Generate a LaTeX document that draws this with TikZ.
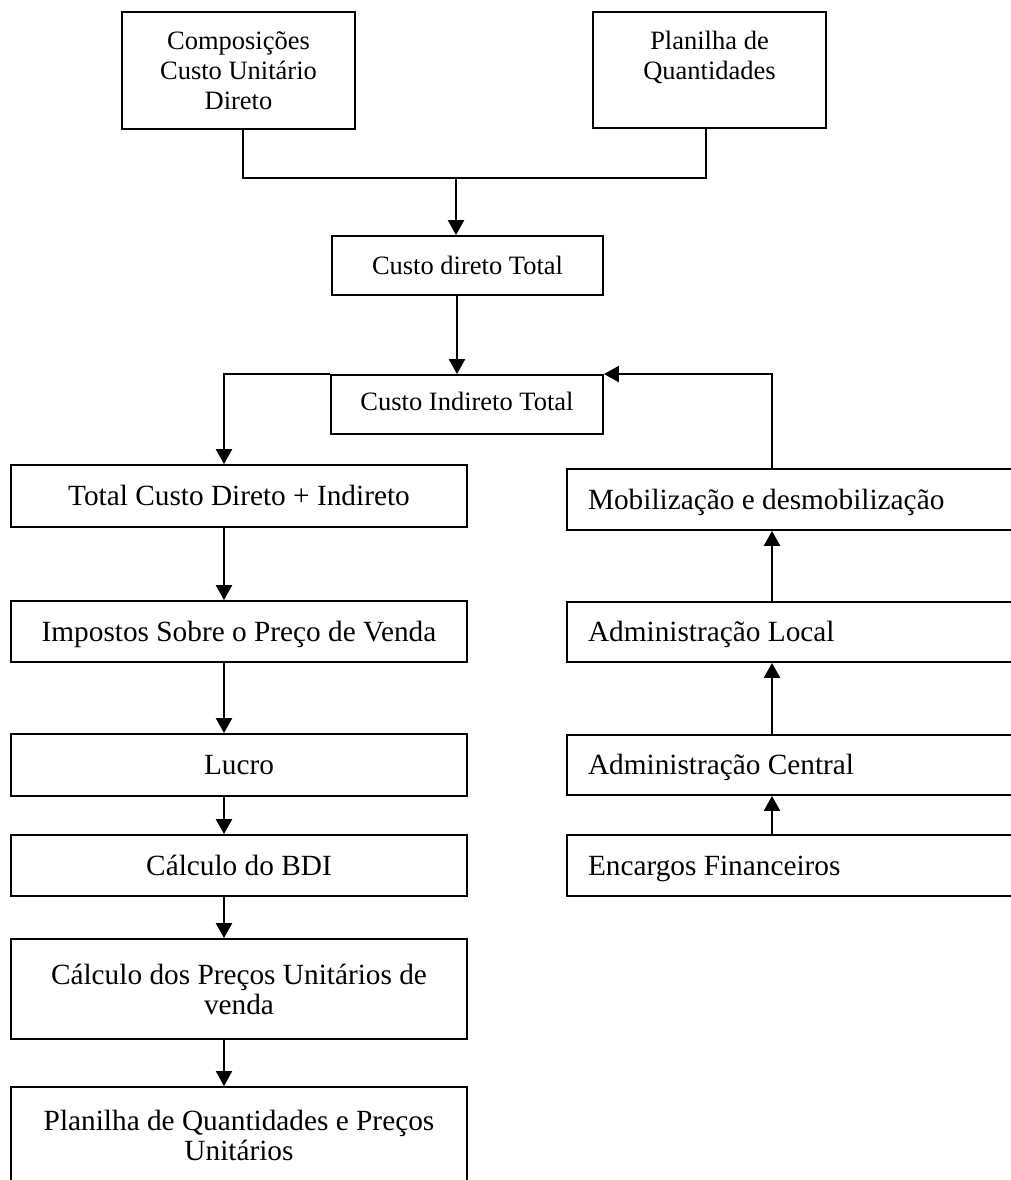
\documentclass[tikz,border=0pt]{standalone}
\usepackage{fontspec}
\setmainfont{Liberation Serif}
\usetikzlibrary{arrows.meta}
\newcommand{\rtext}[1]{\makebox[438pt][l]{#1}}
\begin{document}
\begin{tikzpicture}[x=1pt,y=-1pt,
  box/.style={draw, line width=1.9pt, rectangle, inner sep=0pt, align=center},
  fa/.style={font=\fontsize{26.5}{30}\selectfont},
  fb/.style={font=\fontsize{29.3}{30}\selectfont},
  onea/.style={text height=23.85pt, text depth=6.36pt},
  oneb/.style={text height=26.4pt, text depth=7pt},
  lbox/.style={box, fb, minimum width=456pt},
  rbox/.style={box, fb, oneb, minimum width=480pt},
  arr/.style={line width=2.3pt, -{Triangle[width=16pt,length=15pt]}},
  ln/.style={line width=1.9pt}]
\useasboundingbox (0,0) rectangle (1011,1180);
\clip (0,0) rectangle (1011,1180);

% top boxes
\node[box, fa, minimum width=233pt, minimum height=117pt] (A) at (238.5,70.5)
  {Composições\\Custo Unitário\\Direto};
\node[box, fa, minimum width=233pt, minimum height=116pt] (B) at (709.5,70)
  {Planilha de\\Quantidades\\\mbox{}};
\node[box, fa, onea, minimum width=271pt, minimum height=59pt] (C) at (467.5,265.5)
  {Custo direto Total};
\node[box, fa, text height=23.85pt, text depth=12.4pt, minimum width=272pt, minimum height=59pt] (D) at (467,404.5)
  {Custo Indireto Total};

% left column
\node[lbox, oneb, minimum height=62pt] (E) at (239,496) {Total Custo Direto + Indireto};
\node[lbox, oneb, minimum height=61pt] (F) at (239,631.5) {Impostos Sobre o Preço de Venda};
\node[lbox, oneb, minimum height=62pt] (G) at (239,765) {Lucro};
\node[lbox, oneb, minimum height=61pt] (H) at (239,865.5) {Cálculo do BDI};
\node[lbox, minimum height=100pt] (I) at (239,989) {Cálculo dos Preços Unitários de\\venda};
\node[lbox, minimum height=96pt] (J) at (239,1135) {Planilha de Quantidades e Preços\\Unitários};

% right column
\node[rbox, minimum height=61pt] (K) at (807,499.5) {\rtext{Mobilização e desmobilização}};
\node[rbox, minimum height=60pt] (L) at (807,632) {\rtext{Administração Local}};
\node[rbox, minimum height=60pt] (M) at (807,765) {\rtext{Administração Central}};
\node[rbox, minimum height=61pt] (N) at (807,865.5) {\rtext{Encargos Financeiros}};

% connectors
\coordinate (j) at (456,178);
\draw[ln] ([xshift=4.5pt]A.south) |- (j);
\draw[ln] ([xshift=-3.5pt]B.south) |- (j);
\draw[arr] (j) -- (j |- C.north);
\draw[arr] ([xshift=-10.5pt]C.south) -- ([xshift=-10.5pt]C.south |- D.north);
\draw[arr] (D.north west) -| ([xshift=-15pt]E.north);
\draw[arr] ([xshift=-15pt]E.south) -- ([xshift=-15pt]F.north);
\draw[arr] ([xshift=-15pt]F.south) -- ([xshift=-15pt]G.north);
\draw[arr] ([xshift=-15pt]G.south) -- ([xshift=-15pt]H.north);
\draw[arr] ([xshift=-15pt]H.south) -- ([xshift=-15pt]I.north);
\draw[arr] ([xshift=-15pt]I.south) -- ([xshift=-15pt]J.north);
\draw[arr] ([xshift=-35pt]N.north) -- ([xshift=-35pt]M.south);
\draw[arr] ([xshift=-35pt]M.north) -- ([xshift=-35pt]L.south);
\draw[arr] ([xshift=-35pt]L.north) -- ([xshift=-35pt]K.south);
\draw[arr] ([xshift=-35pt]K.north) |- (D.north east);
\end{tikzpicture}
\end{document}
